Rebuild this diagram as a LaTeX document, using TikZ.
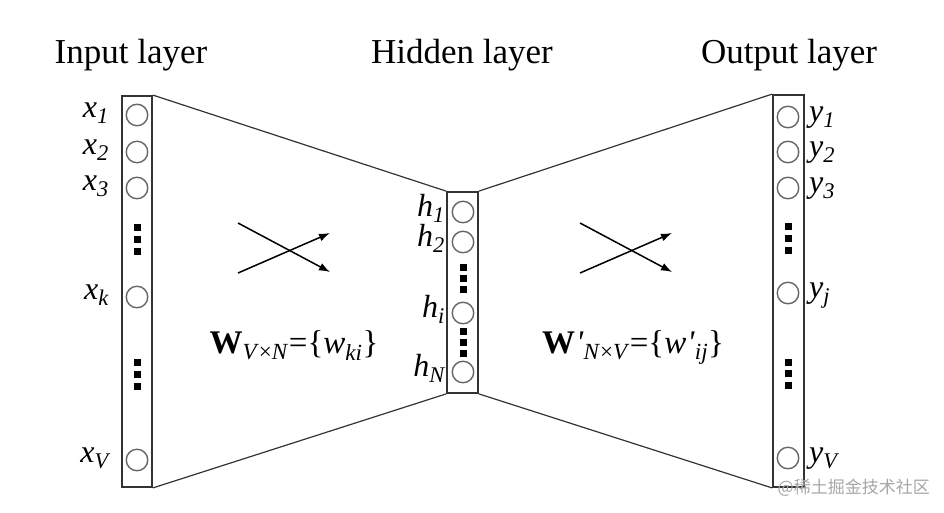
\documentclass[tikz,border=0pt]{standalone}
\usepackage{fontspec}
\setmainfont{Liberation Serif}
\newfontfamily\cjk{Noto Sans CJK SC}
\usetikzlibrary{arrows.meta}
\begin{document}
\begin{tikzpicture}[x=1pt,y=-1pt,
 layerbox/.style={draw=black!80,line width=1.8pt,minimum width=30pt,inner sep=0pt},
 neuron/.style={circle,draw=black!60,line width=1.4pt,minimum size=21.5pt,inner sep=0pt},
 sq/.style={fill=black,minimum size=7pt,inner sep=0pt},
 lab/.style={font=\fontsize{32}{32}\selectfont\itshape,inner sep=0pt},
 ttl/.style={font=\fontsize{35}{38}\selectfont,inner sep=0pt,anchor=base},
 conn/.style={draw=black!80,line width=1.2pt},
 arr/.style={line width=1.5pt,-{Latex[length=11pt,width=8pt]}},
 form/.style={font=\fontsize{33}{33}\selectfont,inner sep=0pt,anchor=base}]
\useasboundingbox (0,0) rectangle (944,512);
% titles
\node[ttl] (tin) at (131,63) {Input layer};
\node[ttl] (thid) at (462,63) {Hidden layer};
\node[ttl] (tout) at (789,63) {Output layer};
% boxes
\node[layerbox,minimum height=391pt] (inbox) at (137,291.5) {};
\node[layerbox,minimum height=201pt,minimum width=31pt] (hidbox) at (462.5,292.5) {};
\node[layerbox,minimum height=392pt,minimum width=31pt] (outbox) at (788.5,291) {};
% connecting lines
\draw[conn] (inbox.north east) -- (hidbox.north west);
\draw[conn] (inbox.south east) -- (hidbox.south west);
\draw[conn] (hidbox.north east) -- (outbox.north west);
\draw[conn] (hidbox.south east) -- (outbox.south west);
% input neurons
\node[neuron] (x1) at (137,115) {};
\node[neuron] (x2) at (137,152) {};
\node[neuron] (x3) at (137,188) {};
\node[neuron] (xk) at (137,297) {};
\node[neuron] (xV) at (137,460) {};
\node[sq] (xd1) at (137,227) {};
\node[sq] (xd2) at (137,239) {};
\node[sq] (xd3) at (137,251) {};
\node[sq] (xd4) at (137,362) {};
\node[sq] (xd5) at (137,374) {};
\node[sq] (xd6) at (137,386) {};
\node[lab,anchor=base east] (lx1) at (109,117) {x\textsubscript{1}};
\node[lab,anchor=base east] (lx2) at (109,154) {x\textsubscript{2}};
\node[lab,anchor=base east] (lx3) at (109,190) {x\textsubscript{3}};
\node[lab,anchor=base east] (lxk) at (109,299) {x\textsubscript{k}};
\node[lab,anchor=base east] (lxV) at (109,462) {x\textsubscript{V}};
% hidden neurons
\node[neuron] (h1) at (463,212) {};
\node[neuron] (h2) at (463,242) {};
\node[neuron] (hi) at (463,313) {};
\node[neuron] (hN) at (463,372) {};
\node[sq] (hd1) at (463,267) {};
\node[sq] (hd2) at (463,278) {};
\node[sq] (hd3) at (463,289) {};
\node[sq] (hd4) at (463,331) {};
\node[sq] (hd5) at (463,342) {};
\node[sq] (hd6) at (463,353) {};
\node[lab,anchor=base east] (lh1) at (445,216) {h\textsubscript{1}};
\node[lab,anchor=base east] (lh2) at (445,246) {h\textsubscript{2}};
\node[lab,anchor=base east] (lhi) at (445,317) {h\textsubscript{i}};
\node[lab,anchor=base east] (lhN) at (445,376) {h\textsubscript{N}};
% output neurons
\node[neuron] (y1) at (788,117) {};
\node[neuron] (y2) at (788,152) {};
\node[neuron] (y3) at (788,188) {};
\node[neuron] (yj) at (788,293) {};
\node[neuron] (yV) at (788,458) {};
\node[sq] (yd1) at (788,226) {};
\node[sq] (yd2) at (788,238) {};
\node[sq] (yd3) at (788,250) {};
\node[sq] (yd4) at (788,362) {};
\node[sq] (yd5) at (788,373) {};
\node[sq] (yd6) at (788,385) {};
\node[lab,anchor=base west] (ly1) at (809,121) {y\textsubscript{1}};
\node[lab,anchor=base west] (ly2) at (809,156) {y\textsubscript{2}};
\node[lab,anchor=base west] (ly3) at (809,192) {y\textsubscript{3}};
\node[lab,anchor=base west] (lyj) at (809,297) {y\textsubscript{j}};
\node[lab,anchor=base west] (lyV) at (809,462) {y\textsubscript{V}};
% crossing arrows
\coordinate (a1s) at (238,223); \coordinate (a1e) at (330,272);
\coordinate (a2s) at (238,273); \coordinate (a2e) at (330,233);
\coordinate (b1s) at (580,223); \coordinate (b1e) at (672,272);
\coordinate (b2s) at (580,273); \coordinate (b2e) at (672,233);
\draw[arr] (a1s) -- (a1e);
\draw[arr] (a2s) -- (a2e);
\draw[arr] (b1s) -- (b1e);
\draw[arr] (b2s) -- (b2e);
% formulas
\node[form] (w1) at (294,353) {\textbf{W}\textsubscript{\textit{V}×\textit{N}}=\{\textit{w}\textsubscript{\textit{ki}}\}};
\node[form] (w2) at (633,353) {\textbf{W}\kern1pt\textit{\textquotesingle}\textsubscript{\textit{N}×\textit{V}}=\{\textit{w}\kern1pt\textit{\textquotesingle}\textsubscript{\textit{ij}}\}};
% watermark
\node[font=\cjk\fontsize{17}{17}\selectfont,text=black!35,anchor=base east,inner sep=0pt] (wm) at (930,493) {@稀土掘金技术社区};
\end{tikzpicture}
\end{document}
